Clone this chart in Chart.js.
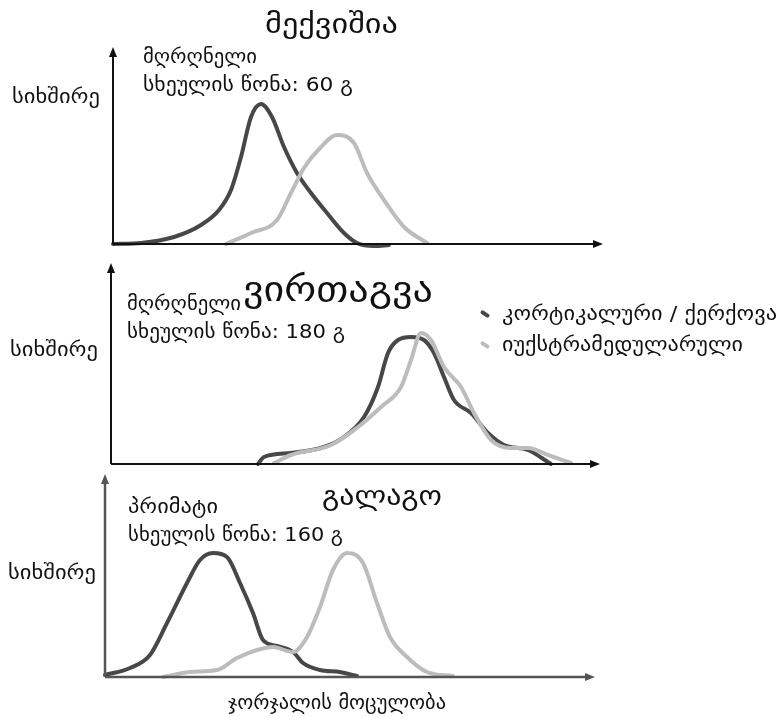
<!DOCTYPE html>
<html lang="ka">
<head>
<meta charset="utf-8">
<title>ჯორჯალის მოცულობა</title>
<script src="https://cdn.jsdelivr.net/npm/chart.js@4.4.1/dist/chart.umd.min.js"></script>
<style>
  html, body { margin: 0; padding: 0; background: #fff; }
  #stage { position: relative; width: 778px; height: 717px; overflow: hidden;
           font-family: "DejaVu Sans", "Noto Sans", sans-serif; color: #111; }
  .t { position: absolute; white-space: nowrap; line-height: 1; transform-origin: 0 50%; }
  .sw { position: absolute; width: 10px; height: 4px; transform: rotate(35deg); border-radius: 2px; }
  canvas { position: absolute; }
</style>
</head>
<body>
<div id="stage">
  <canvas id="c1"></canvas>
  <canvas id="c2"></canvas>
  <canvas id="c3"></canvas>
</div>
<script>
// Series names (legend) and axis titles
const seriesNames = ["კორტიკალური / ქერქოვა", "იუქსტრამედულარული"];
const yTitle = "სიხშირე";
const xTitle = "ჯორჯალის მოცულობა";

// Panel titles and annotations
const panelTitles = ["მექვიშია", "ვირთაგვა", "გალაგო"];
const panelGroups = ["მღრღნელი", "მღრღნელი", "პრიმატი"];
const bodyWeights = ["სხეულის წონა: 60 გ", "სხეულის წონა: 180 გ", "სხეულის წონა: 160 გ"];

// Frequency distributions: [volume, frequency] pairs (arbitrary units)
const gerbilCortical = [[0,0],[28,1],[61,7],[88,19],[106,34],[118,54],[128,87],[138,127],[148,140],[159,127],[171,97],[184,71],[198,51],[214,31],[231,11],[244,1],[261,-2],[276,-1]];
const gerbilJuxta = [[113,0],[138,11],[164,24],[178,51],[191,76],[208,97],[224,109],[241,101],[254,71],[271,44],[291,17],[314,1]];

const ratCortical = [[147,0],[153,7],[180,11],[213,17],[233,27],[253,47],[267,77],[277,111],[287,124],[300,127],[313,124],[323,111],[333,87],[343,64],[360,51],[377,31],[393,19],[417,14],[440,0]];
const ratJuxta = [[163,1],[180,9],[220,19],[247,37],[270,57],[290,77],[300,104],[310,131],[320,124],[333,97],[350,77],[363,51],[380,24],[400,16],[417,16],[437,9],[460,1]];

const galagoCortical = [[0,2],[25,9],[45,22],[62,54],[82,94],[95,117],[108,124],[122,120],[135,94],[148,64],[158,37],[172,31],[188,25],[198,14],[215,7],[235,5],[252,1]];
const galagoJuxta = [[58,0],[85,5],[112,7],[132,19],[152,27],[168,30],[188,25],[202,40],[215,70],[228,107],[242,124],[258,114],[272,74],[285,40],[302,20],[322,5],[348,1]];

// Axis extents per panel (volume, frequency)
const xMaxes = [490, 489, 490];
const yMaxes = [197, 201, 203];

const DARK = "#474747";
const LIGHT = "#bcbcbc";

// Layout of each panel: axis origin on the page
const panels = [
  { id: "c1", ox: 112.5, oy: 244, axisColor: "#111", axisWidth: 2,   cortical: gerbilCortical, juxta: gerbilJuxta },
  { id: "c2", ox: 111,   oy: 464, axisColor: "#111", axisWidth: 2,   cortical: ratCortical,    juxta: ratJuxta },
  { id: "c3", ox: 105,   oy: 677, axisColor: "#555", axisWidth: 2.5, cortical: galagoCortical, juxta: galagoJuxta }
];

const PAD = 12;

// Draws the two axes with arrowheads along the chart area edges
const arrowAxes = {
  id: "arrowAxes",
  afterDraw(chart, args, opts) {
    const { ctx, chartArea: a } = chart;
    ctx.save();
    ctx.strokeStyle = opts.color;
    ctx.fillStyle = opts.color;
    ctx.lineWidth = opts.width;
    ctx.beginPath();
    ctx.moveTo(a.left, a.bottom);
    ctx.lineTo(a.right - 6, a.bottom);
    ctx.moveTo(a.left, a.bottom);
    ctx.lineTo(a.left, a.top + 6);
    ctx.stroke();
    ctx.beginPath();
    ctx.moveTo(a.right, a.bottom);
    ctx.lineTo(a.right - 10, a.bottom - 4);
    ctx.lineTo(a.right - 10, a.bottom + 4);
    ctx.closePath();
    ctx.fill();
    ctx.beginPath();
    ctx.moveTo(a.left, a.top);
    ctx.lineTo(a.left - 4, a.top + 10);
    ctx.lineTo(a.left + 4, a.top + 10);
    ctx.closePath();
    ctx.fill();
    ctx.restore();
  }
};

const toPts = arr => arr.map(([x, y]) => ({ x, y }));

panels.forEach((p, i) => {
  const cv = document.getElementById(p.id);
  const w = xMaxes[i] + 2 * PAD;
  const h = yMaxes[i] + 2 * PAD;
  cv.style.left = (p.ox - PAD) + "px";
  cv.style.top = (p.oy - yMaxes[i] - PAD) + "px";
  cv.style.width = w + "px";
  cv.style.height = h + "px";
  cv.width = w; cv.height = h;

  new Chart(cv, {
    type: "line",
    data: {
      datasets: [
        { label: seriesNames[1], data: toPts(p.juxta), borderColor: LIGHT, borderWidth: 4 },
        { label: seriesNames[0], data: toPts(p.cortical), borderColor: DARK, borderWidth: 4 }
      ]
    },
    options: {
      responsive: false,
      animation: false,
      events: [],
      layout: { padding: PAD },
      elements: {
        point: { radius: 0 },
        line: { tension: 0.4, cubicInterpolationMode: "monotone", borderCapStyle: "round", borderJoinStyle: "round", fill: false }
      },
      datasets: { line: { clip: PAD } },
      scales: {
        x: { type: "linear", min: 0, max: xMaxes[i], display: false },
        y: { type: "linear", min: 0, max: yMaxes[i], display: false }
      },
      plugins: {
        legend: { display: false },
        tooltip: { enabled: false },
        arrowAxes: { color: p.axisColor, width: p.axisWidth }
      }
    },
    plugins: [arrowAxes]
  });
});

// Text labels: placed by left edge and vertical centre, stretched to a set width
const stage = document.getElementById("stage");
function label(text, size, x, cy, width) {
  const d = document.createElement("div");
  d.className = "t";
  d.textContent = text;
  d.style.fontSize = size + "px";
  d.style.left = x + "px";
  d.style.top = (cy - size * 0.55) + "px";
  stage.appendChild(d);
  if (width) {
    const natural = d.getBoundingClientRect().width;
    d.style.transform = "scaleX(" + (width / natural) + ")";
  }
  return d;
}

// [x, centreY, width, size]
const titleSpec = [[265, 25, 133, 27], [243, 291, 190, 34], [322, 497, 120, 28]];
const groupSpec = [[143, 57, 114, 20], [127, 304, 114, 20], [128, 507, 90, 20]];
const weightSpec = [[143, 85, 210, 20], [127, 332, 218, 20], [128, 535, 215, 20]];
const yLabSpec = [[12, 97, 88, 20], [10, 350, 88, 20], [8, 573, 88, 20]];

panelTitles.forEach((t, i) => {
  const [tx, ty, tw, ts] = titleSpec[i];
  label(t, ts, tx, ty, tw);
  const [gx, gy, gw, gs] = groupSpec[i];
  label(panelGroups[i], gs, gx, gy, gw);
  const [wx, wy, ww, wsz] = weightSpec[i];
  label(bodyWeights[i], wsz, wx, wy, ww);
  const [yx, yy, yw, ys] = yLabSpec[i];
  label(yTitle, ys, yx, yy, yw);
});

label(xTitle, 20, 228, 703, 218);

// Legend
const legendSpec = [[502, 314, 275], [502, 345, 241]];
[DARK, LIGHT].forEach((c, k) => {
  const [lx, ly, lw] = legendSpec[k];
  const sw = document.createElement("div");
  sw.className = "sw";
  sw.style.background = c;
  sw.style.left = "480px";
  sw.style.top = (ly - 2) + "px";
  stage.appendChild(sw);
  label(seriesNames[k], 20, lx, ly, lw);
});
</script>
</body>
</html>
